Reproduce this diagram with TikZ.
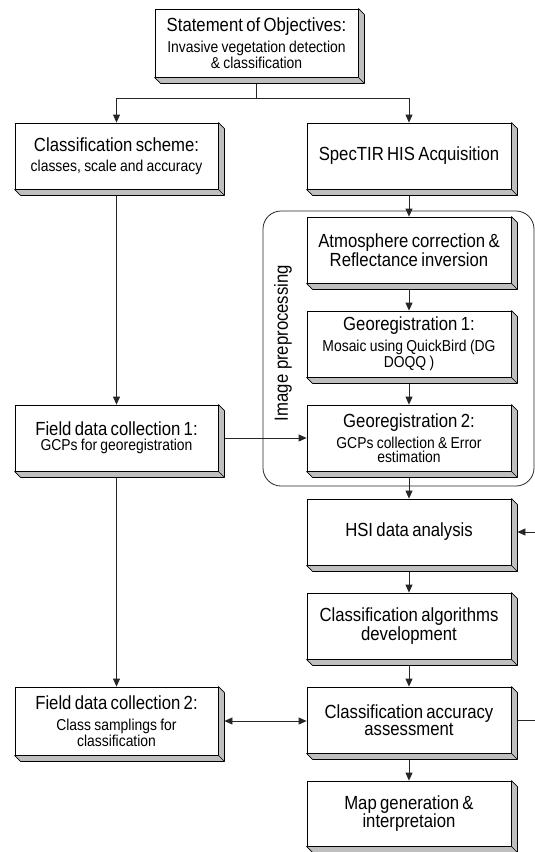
\documentclass[tikz,border=0pt]{standalone}
\usepackage{fontspec}
\setmainfont[FakeStretch=0.88]{Liberation Sans}
\usetikzlibrary{arrows.meta,calc}
\pgfdeclarelayer{bg}
\pgfsetlayers{bg,main}
\newcommand\boxtitle{\fontsize{19}{21}\selectfont}
\newcommand\boxsub{\fontsize{15.8}{18}\selectfont}
\newcommand\subgap{\par\vskip 3pt}
\tikzset{
  flowbox/.style={draw=black, line width=0.8pt, fill=white, minimum width=204pt,
    minimum height=66pt, inner sep=0pt, text width=202pt, align=center},
  conn/.style={draw=black!85, line width=0.8pt},
  arr/.style={conn, -{Triangle[length=8pt,width=7pt]}},
  darr/.style={conn, {Triangle[length=8pt,width=7pt]}-{Triangle[length=8pt,width=7pt]}},
  shade3d/.style={fill=black!25, draw=black, line width=0.7pt, line join=round},
  prepbox/.style={draw=black!85, line width=0.8pt, rounded corners=18pt,
    minimum width=271pt, minimum height=275pt, inner sep=0pt},
}
\begin{document}
\begin{tikzpicture}[x=1pt,y=-1pt]
\useasboundingbox (0,0) rectangle (535,852);

\node[prepbox] (prep) at (398.5,348.5) {};
\node[rotate=90, font=\boxtitle, inner sep=0pt] (iplabel) at (283,343) {Image preprocessing};

\node[flowbox, minimum width=203pt, minimum height=68pt] (top) at (256.5,43)
  {{\boxtitle Statement of Objectives:\subgap}\boxsub Invasive vegetation detection\\ \& classification};
\node[flowbox, minimum width=203pt] (cls) at (116.5,156)
  {{\boxtitle Classification scheme:\par\vskip 8pt}\boxsub classes, scale and accuracy};
\node[flowbox] (spec) at (409,156) {\boxtitle SpecTIR HIS Acquisition};
\node[flowbox] (atm) at (409,250) {\boxtitle Atmosphere correction \&\\ Reflectance inversion};
\node[flowbox] (geo1) at (409,344)
  {{\boxtitle Georegistration 1:\subgap}\boxsub Mosaic using QuickBird (DG\\ DOQQ )};
\node[flowbox] (geo2) at (409,438)
  {{\boxtitle Georegistration 2:\subgap}\boxsub GCPs collection \& Error\\[2pt] estimation};
\node[flowbox, minimum width=203pt] (fdc1) at (116.5,438)
  {{\boxtitle Field data collection 1:\subgap}\boxsub GCPs for georegistration};
\node[flowbox] (hsi) at (409,532) {\boxtitle HSI data analysis};
\node[flowbox] (alg) at (409,626) {\boxtitle Classification algorithms\\ development};
\node[flowbox] (acc) at (409,720) {\boxtitle Classification accuracy\\ assessment};
\node[flowbox, minimum height=65pt] (map) at (409,813.5) {\boxtitle Map generation \&\\ interpretaion};
\node[flowbox, minimum width=203pt, minimum height=68pt] (fdc2) at (116.5,721)
  {{\boxtitle Field data collection 2:\subgap}\boxsub Class samplings for\\ classification};

\foreach \n in {top,cls,spec,atm,geo1,geo2,fdc1,hsi,alg,acc,map,fdc2}{
  \draw[shade3d] (\n.north east) -- ($(\n.north east)+(6,6)$) -- ($(\n.south east)+(6,6)$)
    -- ($(\n.south west)+(6,6)$) -- (\n.south west) -- (\n.south east) -- cycle;
  \draw[line width=0.6pt] (\n.south east) -- ($(\n.south east)+(6,6)$);
}

\coordinate (junc) at (256.5,98);
\coordinate (fb1) at (539,720);
\coordinate (fb2) at (539,532);

\begin{pgfonlayer}{bg}
\draw[conn] (top.south) -- (junc);
\draw[arr] (junc) -| (cls.north);
\draw[arr] (junc) -| (spec.north);
\draw[arr] (cls.south) -- (fdc1.north);
\draw[arr] (fdc1.south) -- (fdc2.north);
\draw[arr] (spec.south) -- (atm.north);
\draw[arr] (atm.south) -- (geo1.north);
\draw[arr] (geo1.south) -- (geo2.north);
\draw[arr] (geo2.south) -- (hsi.north);
\draw[arr] (hsi.south) -- (alg.north);
\draw[arr] (alg.south) -- (acc.north);
\draw[arr] (acc.south) -- (map.north);
\draw[arr] (fdc1.east) -- (geo2.west);
\draw[darr] ($(fdc2.east)+(6,0)$) -- (acc.west |- fdc2.east);
\draw[arr] (acc.east) -- (fb1) -- (fb2) -- ($(hsi.east)+(6,0)$);
\end{pgfonlayer}
\end{tikzpicture}
\end{document}
